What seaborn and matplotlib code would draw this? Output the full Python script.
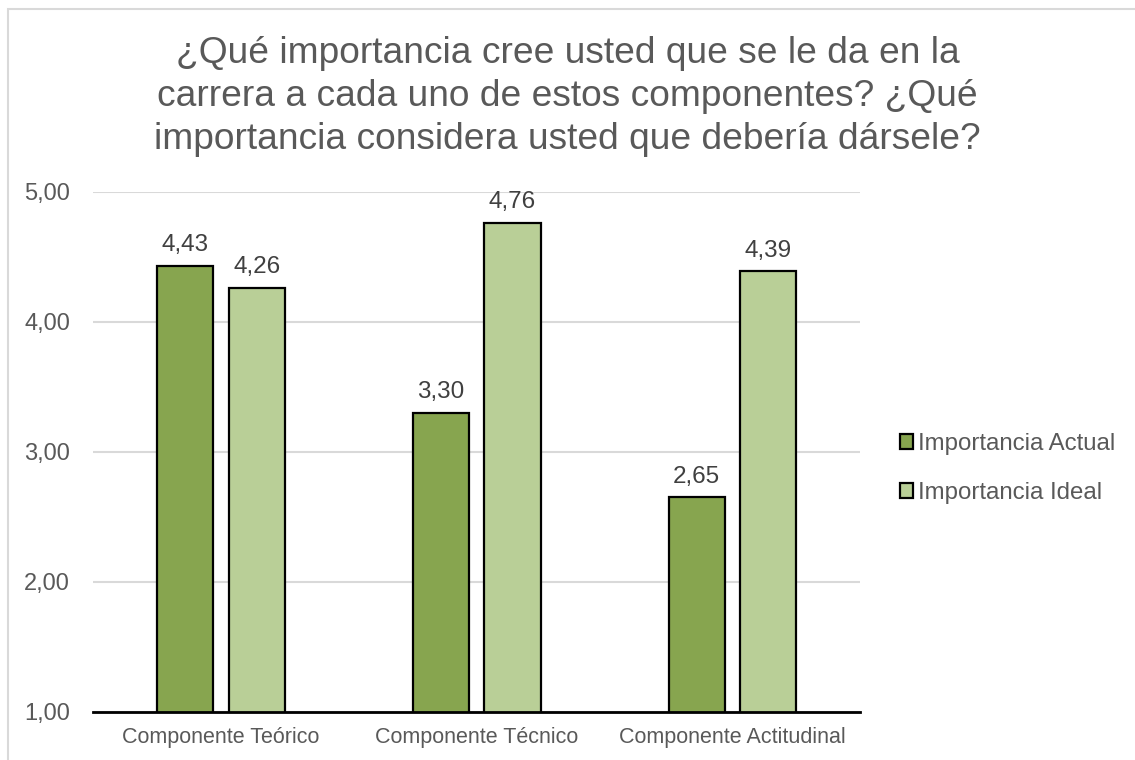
import matplotlib
matplotlib.use("Agg")
import matplotlib.pyplot as plt
import seaborn as sns
import pandas as pd
from matplotlib.patches import Rectangle

# --- data ---
categories = ["Componente Teórico", "Componente Técnico", "Componente Actitudinal"]
actual = [4.43, 3.30, 2.65]
ideal = [4.26, 4.76, 4.39]
series = ["Importancia Actual", "Importancia Ideal"]
yticks = [1, 2, 3, 4, 5]

title = ("¿Qué importancia cree usted que se le da en la\n"
         "carrera a cada uno de estos componentes? ¿Qué\n"
         "importancia considera usted que debería dársele?")

df = pd.DataFrame({
    "Componente": categories * 2,
    "Serie": [series[0]] * 3 + [series[1]] * 3,
    "Valor": actual + ideal,
})

sns.set_theme(style="white")
plt.rcParams["font.family"] = ["Liberation Sans", "DejaVu Sans"]
txt = "#595959"

fig = plt.figure(figsize=(11.35, 7.6), dpi=100)
ax = fig.add_axes([0.082, 0.0632, 0.676, 0.6842])

palette = {series[0]: "#87A54F", series[1]: "#B9CF97"}
sns.barplot(data=df, x="Componente", y="Valor", hue="Serie", order=categories,
            hue_order=series, palette=palette, width=0.56, gap=0.214,
            edgecolor="black", linewidth=1.6, saturation=1, ax=ax)

# axis starts at 1,00 as in the source
ax.set_ylim(1, 5)
ax.set_xlim(-0.5, 2.5)

for cont in ax.containers:
    vals = [b.get_height() for b in cont]
    ax.bar_label(cont, labels=[f"{v:.2f}".replace(".", ",") for v in vals],
                 padding=7, fontsize=17.5, color="#404040")

ax.set_yticks(yticks)
ax.set_yticklabels([f"{v:.2f}".replace(".", ",") for v in yticks],
                   fontsize=17, color=txt)
ax.tick_params(axis="x", labelsize=15.5, colors=txt, length=0, pad=11)
ax.tick_params(axis="y", length=0, pad=16.5)
for lab in ax.get_xticklabels():
    lab.set_color(txt)

ax.yaxis.grid(True, color="#D9D9D9", linewidth=1.5)
ax.set_axisbelow(True)
for s in ["top", "right", "left"]:
    ax.spines[s].set_visible(False)
ax.spines["bottom"].set_color("#000000")
ax.spines["bottom"].set_linewidth(2)
ax.set_xlabel("")
ax.set_ylabel("")

leg = ax.legend(loc="center left", bbox_to_anchor=(1.0235, 0.468), frameon=False,
                fontsize=17.3, handlelength=0.55, handleheight=0.55,
                handletextpad=0.2, labelspacing=1.13)
for t in leg.get_texts():
    t.set_color(txt)

fig.text(0.5, 0.873, title, ha="center", va="center", fontsize=26.7,
         color=txt, linespacing=1.29)

fig.patches.append(Rectangle((8 / 1135, -0.1), 1.2, 1 - 9 / 760 + 0.1,
                             transform=fig.transFigure, fill=False,
                             edgecolor="#D9D9D9", linewidth=1.5))

fig.savefig("out.png", dpi=100)
